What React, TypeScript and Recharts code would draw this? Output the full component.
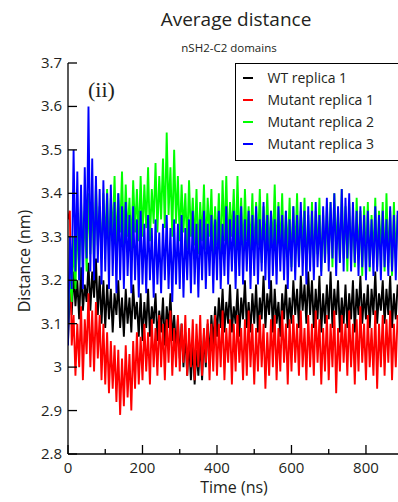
import { LineChart, Line, XAxis, YAxis, Legend } from 'recharts';

const FONT = '"Open Sans", "DejaVu Sans", sans-serif';
const SAMPLE_NS = 5;

const wtReplica1 = [
  3.06, 3.18, 3.12, 3.22, 3.14, 3.20, 3.11, 3.23, 3.13, 3.19,
  3.15, 3.24, 3.13, 3.22, 3.16, 3.25, 3.12, 3.21, 3.10, 3.20,
  3.09, 3.19, 3.11, 3.18, 3.08, 3.17, 3.12, 3.20, 3.09, 3.16,
  3.07, 3.18, 3.10, 3.16, 3.08, 3.19, 3.11, 3.15, 3.07, 3.17,
  3.06, 3.15, 3.09, 3.18, 3.07, 3.14, 3.10, 3.17, 3.06, 3.13,
  3.08, 3.16, 3.05, 3.14, 3.09, 3.17, 3.06, 3.12, 3.04, 3.11,
  3.02, 3.10, 3.00, 3.08, 2.98, 3.06, 2.97, 3.05, 2.96, 3.04,
  2.98, 3.06, 2.97, 3.08, 3.00, 3.10, 3.02, 3.12, 3.05, 3.14,
  3.07, 3.16, 3.09, 3.18, 3.08, 3.15, 3.10, 3.19, 3.08, 3.14,
  3.10, 3.18, 3.07, 3.16, 3.11, 3.20, 3.09, 3.15, 3.08, 3.17,
  3.10, 3.19, 3.08, 3.16, 3.11, 3.21, 3.09, 3.17, 3.12, 3.20,
  3.08, 3.18, 3.10, 3.15, 3.07, 3.17, 3.11, 3.19, 3.09, 3.16,
  3.10, 3.20, 3.12, 3.18, 3.09, 3.21, 3.13, 3.19, 3.10, 3.22,
  3.12, 3.20, 3.09, 3.18, 3.11, 3.21, 3.08, 3.17, 3.10, 3.19,
  3.11, 3.22, 3.09, 3.18, 3.12, 3.20, 3.08, 3.16, 3.10, 3.19,
  3.09, 3.17, 3.11, 3.20, 3.08, 3.18, 3.12, 3.21, 3.10, 3.17,
  3.11, 3.19, 3.09, 3.18, 3.12, 3.22, 3.10, 3.17, 3.13, 3.20,
  3.10, 3.18, 3.12, 3.21, 3.09, 3.17, 3.11, 3.19,
];

const mutantReplica1 = [
  3.34, 3.36, 3.05, 3.12, 2.98, 3.10, 3.00, 3.14, 2.97, 3.11,
  3.03, 3.17, 3.00, 3.13, 2.99, 3.15, 3.02, 3.12, 2.97, 3.10,
  2.96, 3.08, 2.94, 3.06, 2.95, 3.05, 2.92, 3.04, 2.89, 3.02,
  2.91, 3.05, 2.93, 3.03, 2.90, 3.06, 2.95, 3.08, 2.96, 3.07,
  2.97, 3.10, 2.99, 3.08, 2.96, 3.11, 3.00, 3.09, 2.98, 3.12,
  3.00, 3.10, 2.97, 3.11, 3.01, 3.13, 2.98, 3.09, 3.00, 3.12,
  2.99, 3.10, 3.01, 3.12, 2.98, 3.09, 3.00, 3.11, 2.97, 3.10,
  3.00, 3.12, 2.98, 3.09, 3.01, 3.11, 2.97, 3.10, 2.99, 3.12,
  2.98, 3.10, 3.00, 3.13, 2.97, 3.09, 3.01, 3.11, 2.96, 3.10,
  2.99, 3.12, 3.01, 3.09, 2.97, 3.11, 2.98, 3.13, 3.00, 3.10,
  2.96, 3.09, 2.99, 3.12, 3.00, 3.10, 2.95, 3.08, 2.98, 3.11,
  3.00, 3.12, 2.97, 3.09, 2.99, 3.13, 3.01, 3.10, 2.96, 3.11,
  2.99, 3.12, 3.01, 3.10, 2.98, 3.13, 3.00, 3.09, 2.97, 3.12,
  3.00, 3.10, 2.98, 3.13, 3.01, 3.11, 2.96, 3.09, 2.99, 3.12,
  2.97, 3.10, 3.00, 3.13, 2.94, 3.09, 2.99, 3.12, 3.01, 3.10,
  2.98, 3.13, 3.00, 3.10, 2.96, 3.11, 2.99, 3.14, 3.01, 3.10,
  2.97, 3.12, 3.00, 3.09, 2.98, 3.13, 2.95, 3.10, 3.00, 3.12,
  2.98, 3.11, 3.01, 3.13, 2.97, 3.10, 3.00, 3.12,
];

const mutantReplica2 = [
  3.10, 3.22, 3.15, 3.30, 3.18, 3.35, 3.20, 3.38, 3.25, 3.36,
  3.22, 3.40, 3.26, 3.38, 3.24, 3.42, 3.28, 3.37, 3.25, 3.40,
  3.28, 3.41, 3.26, 3.39, 3.30, 3.44, 3.27, 3.40, 3.31, 3.45,
  3.28, 3.42, 3.30, 3.39, 3.27, 3.43, 3.31, 3.41, 3.29, 3.44,
  3.30, 3.42, 3.32, 3.46, 3.29, 3.41, 3.33, 3.47, 3.31, 3.44,
  3.34, 3.48, 3.32, 3.54, 3.35, 3.46, 3.30, 3.50, 3.33, 3.44,
  3.29, 3.42, 3.31, 3.40, 3.27, 3.43, 3.30, 3.39, 3.28, 3.41,
  3.26, 3.38, 3.29, 3.42, 3.27, 3.39, 3.30, 3.41, 3.26, 3.37,
  3.28, 3.40, 3.25, 3.43, 3.29, 3.44, 3.27, 3.38, 3.30, 3.41,
  3.26, 3.44, 3.28, 3.39, 3.25, 3.41, 3.29, 3.37, 3.27, 3.40,
  3.25, 3.38, 3.28, 3.41, 3.24, 3.37, 3.27, 3.40, 3.26, 3.36,
  3.28, 3.42, 3.25, 3.38, 3.27, 3.40, 3.24, 3.36, 3.26, 3.39,
  3.23, 3.37, 3.26, 3.40, 3.24, 3.36, 3.27, 3.39, 3.22, 3.35,
  3.25, 3.38, 3.23, 3.36, 3.26, 3.39, 3.22, 3.35, 3.24, 3.37,
  3.26, 3.38, 3.23, 3.40, 3.27, 3.36, 3.24, 3.41, 3.25, 3.37,
  3.22, 3.38, 3.26, 3.35, 3.23, 3.39, 3.25, 3.36, 3.21, 3.37,
  3.24, 3.38, 3.22, 3.35, 3.25, 3.39, 3.23, 3.36, 3.26, 3.38,
  3.22, 3.40, 3.24, 3.36, 3.21, 3.38, 3.25, 3.35,
];

const mutantReplica3 = [
  3.05, 3.30, 3.18, 3.50, 3.22, 3.45, 3.20, 3.42, 3.18, 3.46,
  3.25, 3.60, 3.22, 3.48, 3.20, 3.44, 3.24, 3.41, 3.19, 3.43,
  3.22, 3.40, 3.18, 3.42, 3.21, 3.38, 3.17, 3.40, 3.20, 3.37,
  3.18, 3.38, 3.21, 3.35, 3.17, 3.37, 3.20, 3.34, 3.16, 3.36,
  3.19, 3.33, 3.17, 3.35, 3.20, 3.32, 3.16, 3.34, 3.19, 3.31,
  3.17, 3.33, 3.20, 3.35, 3.18, 3.32, 3.15, 3.34, 3.19, 3.33,
  3.18, 3.35, 3.16, 3.32, 3.20, 3.34, 3.17, 3.36, 3.19, 3.33,
  3.16, 3.34, 3.20, 3.36, 3.18, 3.33, 3.21, 3.35, 3.17, 3.34,
  3.20, 3.36, 3.18, 3.33, 3.21, 3.37, 3.19, 3.34, 3.22, 3.36,
  3.18, 3.35, 3.21, 3.37, 3.19, 3.34, 3.22, 3.36, 3.18, 3.35,
  3.21, 3.37, 3.19, 3.34, 3.22, 3.38, 3.20, 3.35, 3.18, 3.36,
  3.21, 3.34, 3.19, 3.37, 3.22, 3.35, 3.20, 3.36, 3.18, 3.34,
  3.22, 3.37, 3.20, 3.35, 3.23, 3.38, 3.21, 3.36, 3.19, 3.37,
  3.22, 3.36, 3.20, 3.38, 3.23, 3.35, 3.21, 3.37, 3.24, 3.39,
  3.22, 3.38, 3.25, 3.40, 3.21, 3.37, 3.24, 3.41, 3.22, 3.39,
  3.25, 3.40, 3.22, 3.38, 3.24, 3.36, 3.21, 3.37, 3.23, 3.35,
  3.20, 3.36, 3.23, 3.34, 3.21, 3.37, 3.22, 3.35, 3.20, 3.36,
  3.23, 3.34, 3.21, 3.37, 3.22, 3.35, 3.20, 3.36,
];

const timeTicks = [0, 100, 200, 300, 400, 500, 600, 700, 800];
const distanceTicks = [
  2.8, 2.85, 2.9, 2.95, 3.0, 3.05, 3.1, 3.15, 3.2, 3.25,
  3.3, 3.35, 3.4, 3.45, 3.5, 3.55, 3.6, 3.65, 3.7,
];

const series = [
  { key: 'wt1', name: 'WT replica 1', color: '#000000', values: wtReplica1 },
  { key: 'mut1', name: 'Mutant replica 1', color: '#ff0000', values: mutantReplica1 },
  { key: 'mut2', name: 'Mutant replica 2', color: '#00ff00', values: mutantReplica2 },
  { key: 'mut3', name: 'Mutant replica 3', color: '#0000ff', values: mutantReplica3 },
];

const data = wtReplica1.map((_, i) => {
  const row: Record<string, number> = { t: i * SAMPLE_NS };
  series.forEach((s) => {
    row[s.key] = s.values[i];
  });
  return row;
});

const isMajorX = (v: number) => v % 200 === 0;
const isMajorY = (v: number) => Math.round(v * 100) % 10 === 0;

const BottomTick = ({ x, y, payload }: any) => {
  const major = isMajorX(payload.value);
  return (
    <g>
      <line x1={x} y1={y} x2={x} y2={y - (major ? 9 : 5)} stroke="#000" strokeWidth={1.3} />
      {major && (
        <text x={x} y={y + 19} textAnchor="middle" fontSize={15} fontFamily={FONT} fill="#231f20">
          {payload.value}
        </text>
      )}
    </g>
  );
};

const TopTick = ({ x, y, payload }: any) => {
  const major = isMajorX(payload.value);
  return <line x1={x} y1={y} x2={x} y2={y + (major ? 9 : 5)} stroke="#000" strokeWidth={1.3} />;
};

const LeftTick = ({ x, y, payload }: any) => {
  const major = isMajorY(payload.value);
  return (
    <g>
      <line x1={x} y1={y} x2={x + (major ? 9 : 5)} y2={y} stroke="#000" strokeWidth={1.3} />
      {major && (
        <text x={x - 6} y={y + 5} textAnchor="end" fontSize={15} fontFamily={FONT} fill="#231f20">
          {String(Math.round(payload.value * 10) / 10)}
        </text>
      )}
    </g>
  );
};

const RightTick = ({ x, y, payload }: any) => {
  const major = isMajorY(payload.value);
  return <line x1={x} y1={y} x2={x - (major ? 9 : 5)} y2={y} stroke="#000" strokeWidth={1.3} />;
};

const LegendBox = () => (
  <div
    style={{
      border: '1.5px solid #000',
      background: '#fff',
      padding: '2.5px 0 5.5px 6.5px',
      width: 175,
      boxSizing: 'border-box',
      fontFamily: FONT,
      fontSize: 14,
      color: '#231f20',
    }}
  >
    {series.map((s) => (
      <div key={s.key} style={{ display: 'flex', alignItems: 'center', height: 22 }}>
        <span style={{ display: 'inline-block', width: 10, height: 2, background: s.color, marginRight: 15 }} />
        <span>{s.name}</span>
      </div>
    ))}
  </div>
);

export default function App() {
  return (
    <div style={{ position: 'absolute', left: 0, top: 0, width: 398, height: 502, background: '#fff', overflow: 'hidden' }}>
      <LineChart width={398} height={502} data={data} margin={{ top: 63, right: 0, bottom: 18, left: 0 }}>
        <XAxis
          dataKey="t"
          type="number"
          domain={[0, 886]}
          ticks={timeTicks}
          allowDataOverflow
          height={30}
          tickSize={0}
          tickMargin={0}
          tickLine={false}
          tick={<BottomTick />}
          axisLine={{ stroke: '#000', strokeWidth: 1.3 }}
        />
        <XAxis
          xAxisId="top"
          orientation="top"
          dataKey="t"
          type="number"
          domain={[0, 886]}
          ticks={timeTicks}
          allowDataOverflow
          height={0}
          tickSize={0}
          tickMargin={0}
          tickLine={false}
          tick={<TopTick />}
          axisLine={{ stroke: '#000', strokeWidth: 1.3 }}
        />
        <YAxis
          type="number"
          domain={[2.8, 3.7]}
          ticks={distanceTicks}
          allowDataOverflow
          width={68}
          tickSize={0}
          tickMargin={0}
          tickLine={false}
          tick={<LeftTick />}
          axisLine={{ stroke: '#000', strokeWidth: 1.3 }}
        />
        <YAxis
          yAxisId="right"
          orientation="right"
          type="number"
          domain={[2.8, 3.7]}
          ticks={distanceTicks}
          width={0}
          tickSize={0}
          tickMargin={0}
          tickLine={false}
          tick={<RightTick />}
          axisLine={{ stroke: '#000', strokeWidth: 1.3 }}
        />
        {series.map((s) => (
          <Line
            key={s.key}
            dataKey={s.key}
            name={s.name}
            type="linear"
            stroke={s.color}
            strokeWidth={1.9}
            strokeLinejoin="miter"
            dot={false}
            activeDot={false}
            isAnimationActive={false}
          />
        ))}
        <Legend
          layout="vertical"
          align="center"
          verticalAlign="middle"
          content={() => <LegendBox />}
          wrapperStyle={{ left: 235, top: 63, width: 175 }}
        />
      </LineChart>
      <svg width={398} height={502} style={{ position: 'absolute', left: 0, top: 0, pointerEvents: 'none' }}>
        <text x={236} y={26} textAnchor="middle" fontSize={19} fontFamily={FONT} fill="#231f20">
          Average distance
        </text>
        <text x={229} y={52} textAnchor="middle" fontSize={11.5} fontFamily={FONT} fill="#231f20">
          nSH2-C2 domains
        </text>
        <text x={88} y={97} fontSize={22} fontFamily='"Liberation Serif", "DejaVu Serif", serif' fill="#231f20">
          (ii)
        </text>
        <text
          x={0}
          y={0}
          transform="translate(30 261) rotate(-90)"
          textAnchor="middle"
          fontSize={16}
          fontFamily={FONT}
          fill="#231f20"
        >
          Distance (nm)
        </text>
        <text x={234} y={493} textAnchor="middle" fontSize={16} fontFamily={FONT} fill="#231f20">
          Time (ns)
        </text>
      </svg>
    </div>
  );
}
